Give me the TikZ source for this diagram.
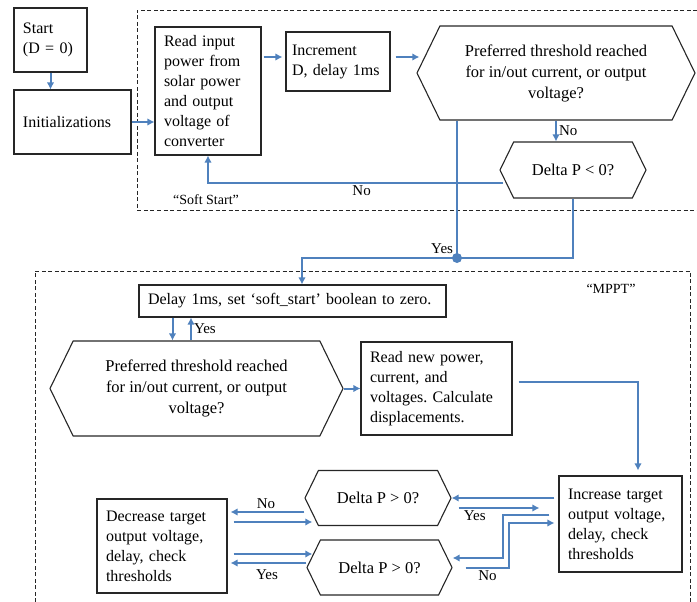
\documentclass[tikz,border=0pt]{standalone}
\usepackage{fontspec}
\setmainfont{Liberation Serif}
\usetikzlibrary{shapes.symbols,arrows.meta}

\definecolor{flowblue}{RGB}{79,129,189}
\tikzset{
  box/.style={draw=black!85, line width=1.1pt, rectangle, align=left,
    inner xsep=9pt, inner ysep=0pt, font=\fontsize{16}{20}\selectfont},
  hexa/.style={draw=black!85, line width=1.1pt, signal, signal to=west and east,
    signal pointer angle=128, align=center, inner sep=0pt,
    font=\fontsize{16.5}{21}\selectfont},
  link/.style={draw=flowblue, line width=2pt},
  flow/.style={link, -{Latex[length=7pt,width=7.5pt]}},
  lbl/.style={inner sep=2pt, font=\fontsize{15}{18}\selectfont},
  framename/.style={inner sep=0pt, font=\fontsize{14}{17}\selectfont},
  frame/.style={draw=black!85, line width=0.8pt, dash pattern=on 4pt off 2.5pt}
}

\begin{document}
\frenchspacing
\begin{tikzpicture}[x=1pt, y=-1pt]
\useasboundingbox (0,0) rectangle (697,602);

% dashed frames
\draw[frame] (697,10) -- (137,10) -- (137,210) -- (697,210);
\draw[frame] (35,602) -- (35,271) -- (690,271) -- (690,602);
\node[framename] (ssname) at (206,200) {“Soft Start”};
\node[framename] (mpptname) at (611,289) {“MPPT”};

% soft start part
\node[box, minimum width=73pt, minimum height=64pt, text width=55pt] (start) at (50.5,40) {Start\\(D = 0)};
\node[box, minimum width=117pt, minimum height=64pt, text width=99pt] (init) at (72.5,122) {Initializations};
\node[box, minimum width=106pt, minimum height=128pt, text width=88pt] (read) at (208,91)
  {Read input\\power from\\solar power\\and output\\voltage of\\converter};
\node[box, minimum width=104pt, minimum height=59pt, inner xsep=6pt, text width=92pt] (incr) at (338,61.5)
  {Increment\\D, delay 1ms};
\node[hexa, minimum width=278pt, minimum height=94pt] (thr1) at (556,73)
  {Preferred threshold reached\\for in/out current, or output\\voltage?};
\node[hexa, minimum width=146pt, minimum height=56pt] (dp0) at (573,170) {Delta P < 0?};

% MPPT part
\node[box, minimum width=307pt, minimum height=32pt, text width=289pt] (delay) at (292.5,301)
  {Delay 1ms, set ‘soft\_start’ boolean to zero.};
\node[hexa, minimum width=293pt, minimum height=95pt] (thr2) at (196.5,388.5)
  {Preferred threshold reached\\for in/out current, or output\\voltage?};
\node[box, minimum width=151pt, minimum height=93pt, text width=133pt] (rnew) at (436.5,388.5)
  {Read new power,\\current, and\\voltages. Calculate\\displacements.};
\node[box, minimum width=123pt, minimum height=96pt, text width=105pt] (incr2) at (620.5,524)
  {Increase target\\output voltage,\\delay, check\\thresholds};
\node[hexa, minimum width=146pt, minimum height=55pt] (dpa) at (378,498) {Delta P > 0?};
\node[hexa, minimum width=145pt, minimum height=55pt] (dpb) at (379.5,567.5) {Delta P > 0?};
\node[box, minimum width=130pt, minimum height=94pt, text width=112pt] (decr) at (162,546)
  {Decrease target\\output voltage,\\delay, check\\thresholds};

\coordinate (jn) at (457,258);

% connectors, soft start
\draw[flow] (start.south) -- (start.south |- init.north);
\draw[flow] (init.east) -- (init.east -| read.west);
\draw[flow, shorten <=2pt, shorten >=3pt] ([yshift=4.5pt]read.east |- incr.west) -- ([yshift=4.5pt]incr.west);
\draw[flow, shorten <=5pt] ([yshift=4.5pt]incr.east) -- ([yshift=4.5pt, xshift=3pt]incr.east -| thr1.west);
\draw[flow] (thr1.south) -- (thr1.south |- dp0.north) node[lbl, right, midway] {No};
\draw[flow] ([yshift=-13pt, xshift=4pt]dp0.west) -| (read.south) node[lbl, below, pos=0.24] {No};
\draw[link] (jn |- thr1.south) -- (jn);
\draw[link] (dp0.south) |- (jn);
\draw[flow] (jn) node[lbl, above left=1pt] {Yes} -| ([xshift=9.5pt]delay.north);
\fill[flowblue] (jn) circle (5pt);

% connectors, MPPT
\draw[flow] ([xshift=-120pt]delay.south) -- ([xshift=-120pt]delay.south |- thr2.north);
\draw[flow] ([xshift=-101.5pt]delay.south |- thr2.north) -- ([xshift=-101.5pt]delay.south)
  node[lbl, right, midway] {Yes};
\draw[flow] (thr2.east) -- (rnew.west);
\draw[flow, shorten <=6pt, shorten >=5pt] ([yshift=6.5pt]rnew.east) -| ([xshift=17.5pt]incr2.north);
\draw[flow, shorten <=4pt] (incr2.west |- dpa.east) -- (dpa.east);
\draw[flow] ([yshift=-10pt, xshift=7pt]dpa.east) -- ([yshift=-10pt, xshift=-19pt]dpa.east -| incr2.west)
  node[lbl, below, pos=0.2] {Yes};
\draw[flow] ([xshift=-9pt, yshift=9pt]incr2.west) -| ([xshift=50pt, yshift=9.5pt]dpb.east)
  -- ([yshift=9.5pt]dpb.east);
\draw[flow] ([xshift=13pt]dpb.east) -| ([xshift=-49pt, yshift=1pt]incr2.west)
  node[lbl, below, pos=0.25] {No} -- ([xshift=-4pt, yshift=1pt]incr2.west);
\draw[flow, shorten >=3pt] ([yshift=-14pt]dpa.west) -- ([yshift=-14pt]dpa.west -| decr.east)
  node[lbl, above, midway] {No};
\draw[flow, shorten <=6pt] ([yshift=-24pt]dpa.west -| decr.east) -- ([yshift=-24pt, xshift=8pt]dpa.west);
\draw[flow, shorten <=6pt] ([yshift=13.5pt]dpb.west -| decr.east) -- ([yshift=13.5pt, xshift=6pt]dpb.west);
\draw[flow, shorten >=3pt] ([yshift=4.5pt]dpb.west) -- ([yshift=4.5pt]dpb.west -| decr.east)
  node[lbl, below=4pt, midway] {Yes};
\end{tikzpicture}
\end{document}
